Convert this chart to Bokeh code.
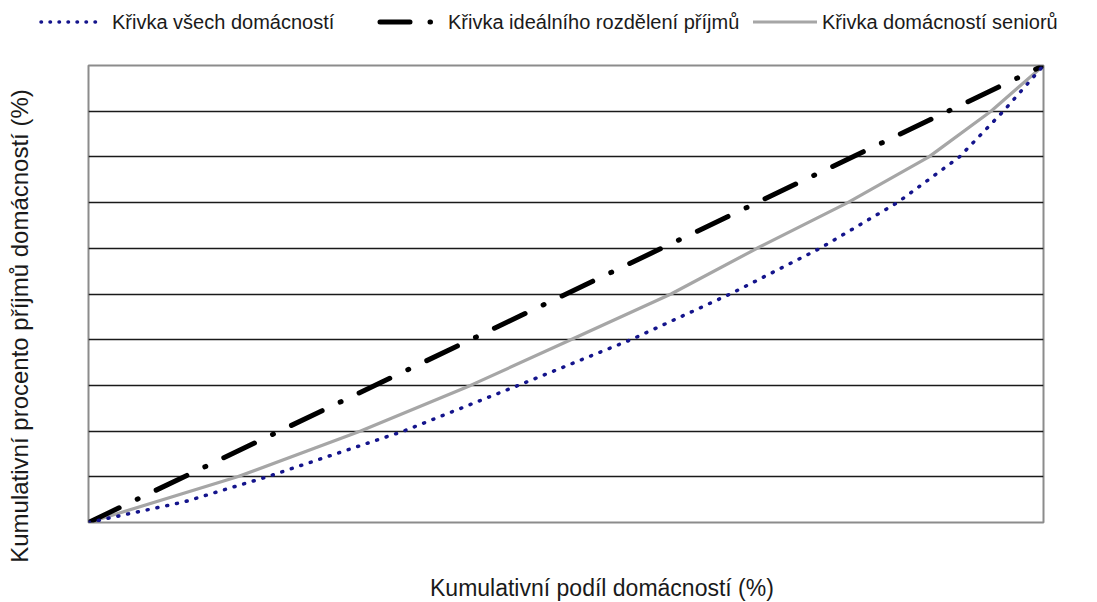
from bokeh.plotting import figure
from bokeh.models import FixedTicker, Range1d, Grid, Div
from bokeh.layouts import column, row
from bokeh.embed import file_html
from bokeh.resources import INLINE

# Data (cumulative share of households %, cumulative share of income %)
x_all = [0, 10, 18.7, 33, 45, 56.8, 67.2, 76.6, 84.7, 91.2, 95.8, 100]
y_all = [0, 4.5, 10, 20, 30, 40, 50, 60, 70, 80, 90, 100]

x_ideal = [0, 100]
y_ideal = [0, 100]

x_sen = [0, 15.6, 28.5, 40, 50.5, 61, 70, 79.5, 88, 94.5, 100]
y_sen = [0, 10, 20, 30, 40, 50, 60, 70, 80, 90, 100]

labels = ["Křivka všech domácností", "Křivka ideálního rozdělení příjmů", "Křivka domácností seniorů"]
x_title = "Kumulativní podíl domácností (%)"
y_title = "Kumulativní procento příjmů domácností (%)"
grid_ticks = [10, 20, 30, 40, 50, 60, 70, 80, 90]

FONT = "Liberation Sans"
FW, FH = 955, 457

# ---- main chart ----
p = figure(frame_width=FW, frame_height=FH, output_backend="svg", toolbar_location=None,
           x_range=Range1d(0, 100), y_range=Range1d(0, 100),
           x_axis_type=None, y_axis_type=None,
           min_border_left=2, min_border_right=54, min_border_bottom=2, min_border_top=2,
           margin=0)
p.background_fill_color = "white"
p.border_fill_color = "white"
p.outline_line_color = "#8c8c8c"
p.outline_line_width = 2
p.xgrid.visible = False
p.ygrid.visible = False
p.add_layout(Grid(dimension=1, ticker=FixedTicker(ticks=grid_ticks),
                  grid_line_color="#1a1a1a", grid_line_width=1.3), "center")

p.line(x_sen, y_sen, line_color="#a6a6a6", line_width=3.2)
p.line(x_ideal, y_ideal, line_color="black", line_width=5,
       line_dash="34 20 1 20", line_cap="round")
p.line(x_all, y_all, line_color="#14148c", line_width=3.5,
       line_dash="1 9", line_cap="round")

# ---- legend strip (HTML) ----
txt = "position:absolute;top:10px;line-height:24px;white-space:nowrap;"
leg_html = (
    f'<div style="position:relative;width:1097px;height:63px;font-family:\'{FONT}\';'
    f'font-size:20px;color:#1a1a1a;">'
    '<svg style="position:absolute;left:0;top:0" width="1097" height="63">'
    '<line x1="41" y1="22" x2="100" y2="22" stroke="#14148c" stroke-width="3.5" '
    'stroke-linecap="round" stroke-dasharray="0.5 8.5"/>'
    '<line x1="380" y1="22" x2="437" y2="22" stroke="black" stroke-width="5" '
    'stroke-linecap="round" stroke-dasharray="30 20 0.5 30"/>'
    '<line x1="753" y1="22" x2="817" y2="22" stroke="#a6a6a6" stroke-width="3.2"/>'
    '</svg>'
    f'<span style="{txt}left:112px">{labels[0]}</span>'
    f'<span style="{txt}left:448px">{labels[1]}</span>'
    f'<span style="{txt}left:822px">{labels[2]}</span>'
    '</div>'
)
legdiv = Div(text=leg_html, width=1097, height=63, margin=0)

# ---- axis titles (HTML) ----
x_html = (f'<div style="position:relative;width:1011px;height:78px;">'
          f'<span style="position:absolute;left:344px;top:51px;line-height:26px;white-space:nowrap;'
          f'font-family:\'{FONT}\';font-size:23px;color:#1a1a1a">{x_title}</span></div>')
xdiv = Div(text=x_html, width=1011, height=78, margin=0)

y_html = (f'<div style="position:relative;width:86px;height:539px;">'
          f'<span style="position:absolute;left:20px;top:263px;line-height:26px;white-space:nowrap;'
          f'transform:translate(-50%,-50%) rotate(-90deg);'
          f'font-family:\'{FONT}\';font-size:24px;color:#1a1a1a">{y_title}</span></div>')
ydiv = Div(text=y_html, width=86, height=539, margin=0)

layout = column(legdiv, row(ydiv, column(p, xdiv, spacing=0, margin=0), spacing=0, margin=0),
                spacing=0, margin=0)
open("out.html", "w", encoding="utf-8").write(file_html(layout, INLINE))
